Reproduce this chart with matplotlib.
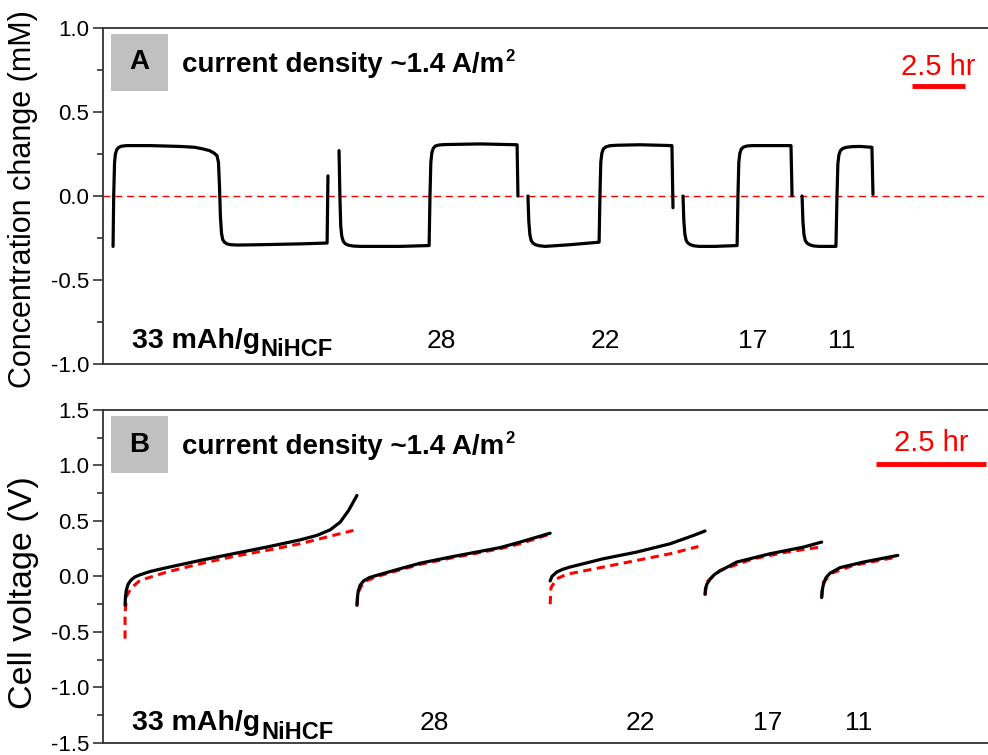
import matplotlib
matplotlib.use('Agg')
import matplotlib.pyplot as plt
from matplotlib.patches import Rectangle
from matplotlib.ticker import MultipleLocator

plt.rcParams['font.family'] = ['Liberation Sans', 'DejaVu Sans']
plt.rcParams['axes.unicode_minus'] = False

# panel A: concentration change (mM) vs time (hr), one list per cycle
conc_time = [
    [0.47, 0.50, 0.54, 0.58, 0.64, 0.72, 0.85, 1.10, 2.21, 3.62, 4.30, 4.70, 5.00, 5.22, 5.35, 5.42, 5.47,
     5.51, 5.56, 5.62, 5.70, 5.82, 6.00, 6.30, 7.37, 9.25, 10.52, 10.56],
    [11.08, 11.12, 11.16, 11.21, 11.28, 11.38, 11.52, 11.75, 12.10, 13.94, 15.31, 15.35, 15.39, 15.44, 15.51,
     15.60, 15.75, 16.00, 17.70, 19.44, 19.48],
    [19.95, 19.99, 20.04, 20.10, 20.18, 20.30, 20.48, 20.75, 21.92, 23.29, 23.33, 23.37, 23.42, 23.49, 23.60,
     23.78, 24.10, 25.21, 26.71, 26.76],
    [27.23, 27.27, 27.32, 27.38, 27.46, 27.58, 27.76, 28.00, 28.73, 29.77, 29.81, 29.85, 29.90, 29.97, 30.08,
     30.25, 30.50, 31.31, 32.30, 32.35],
    [32.82, 32.86, 32.91, 32.97, 33.05, 33.17, 33.35, 33.60, 34.41, 34.46, 34.50, 34.55, 34.62, 34.73, 34.90,
     35.20, 35.54, 36.10, 36.15],
]
conc_val = [
    [-0.30, 0.00, 0.20, 0.25, 0.275, 0.288, 0.296, 0.30, 0.30, 0.295, 0.29, 0.28, 0.27, 0.255, 0.24, 0.20, 0.05,
     -0.12, -0.22, -0.26, -0.275, -0.285, -0.29, -0.292, -0.29, -0.285, -0.28, 0.12],
    [0.27, 0.00, -0.18, -0.24, -0.27, -0.285, -0.293, -0.298, -0.30, -0.30, -0.295, 0.00, 0.20, 0.26, 0.285,
     0.297, 0.303, 0.306, 0.31, 0.305, 0.00],
    [0.00, -0.15, -0.23, -0.265, -0.28, -0.29, -0.296, -0.30, -0.29, -0.275, 0.00, 0.20, 0.255, 0.28, 0.292,
     0.299, 0.302, 0.305, 0.30, -0.07],
    [0.00, -0.15, -0.23, -0.265, -0.28, -0.29, -0.297, -0.30, -0.30, -0.295, 0.00, 0.20, 0.255, 0.28, 0.292,
     0.298, 0.30, 0.30, 0.30, 0.00],
    [0.00, -0.15, -0.23, -0.265, -0.28, -0.29, -0.297, -0.30, -0.30, 0.00, 0.19, 0.245, 0.27, 0.283, 0.29,
     0.294, 0.295, 0.29, 0.01],
]

# panel B: cell voltage (V) vs time (hr), measured (black) and modelled (red)
volt_time = [
    [0.50, 0.51, 0.53, 0.57, 0.63, 0.72, 0.84, 1.07, 1.45, 2.21, 2.96, 3.72, 4.48, 4.86, 5.16, 5.39, 5.58, 5.77],
    [5.77, 5.78, 5.80, 5.84, 5.92, 6.05, 6.22, 6.75, 7.21, 7.89, 9.02, 9.48, 10.16],
    [10.16, 10.20, 10.31, 10.45, 10.61, 11.37, 12.13, 12.89, 13.42, 13.68],
    [13.68, 13.69, 13.72, 13.80, 13.90, 14.02, 14.40, 15.16, 15.92, 16.33],
    [16.33, 16.34, 16.37, 16.43, 16.52, 16.75, 17.28, 18.06],
]
volt_val = [
    [-0.26, -0.18, -0.12, -0.07, -0.035, -0.005, 0.015, 0.045, 0.08, 0.145, 0.205, 0.265, 0.33, 0.37, 0.42,
     0.49, 0.595, 0.73],
    [-0.26, -0.19, -0.13, -0.08, -0.04, -0.01, 0.01, 0.07, 0.12, 0.175, 0.26, 0.31, 0.39],
    [-0.04, 0.0, 0.04, 0.065, 0.085, 0.16, 0.22, 0.295, 0.37, 0.41],
    [-0.16, -0.11, -0.07, -0.02, 0.02, 0.05, 0.13, 0.205, 0.265, 0.31],
    [-0.19, -0.13, -0.07, -0.01, 0.03, 0.08, 0.13, 0.19],
]
model_time = [
    [0.50, 0.50, 0.54, 0.65, 0.84, 1.45, 2.21, 2.96, 3.72, 4.48, 5.23, 5.69],
    [5.77, 5.80, 5.92, 6.22, 6.75, 7.21, 7.89, 9.02, 9.48, 10.10],
    [10.16, 10.18, 10.31, 10.54, 11.37, 12.13, 12.89, 13.53],
    [13.68, 13.72, 14.02, 14.78, 15.54, 16.30],
    [16.33, 16.37, 16.56, 17.05, 18.04],
]
model_val = [
    [-0.56, -0.33, -0.17, -0.10, -0.035, 0.04, 0.115, 0.18, 0.235, 0.295, 0.37, 0.415],
    [-0.26, -0.14, -0.05, 0.00, 0.06, 0.11, 0.165, 0.25, 0.295, 0.375],
    [-0.25, -0.10, -0.02, 0.02, 0.085, 0.145, 0.205, 0.27],
    [-0.17, -0.05, 0.055, 0.16, 0.22, 0.265],
    [-0.19, -0.05, 0.03, 0.10, 0.175],
]

capacity_labels = ['28', '22', '17', '11']
conc_label_x = [15.9, 23.6, 30.5, 34.7]
volt_label_x = [7.52, 12.2, 15.11, 17.16]

fig = plt.figure(figsize=(9.88, 7.55), dpi=100)
axA = fig.add_axes([0.1043, 0.5179, 0.8957, 0.4450])
axB = fig.add_axes([0.1043, 0.0159, 0.8957, 0.4411])
renderer = fig.canvas.get_renderer()

spine_col = '#333333'
for ax in (axA, axB):
    for side in ('left', 'top', 'bottom'):
        ax.spines[side].set_color(spine_col)
        ax.spines[side].set_linewidth(1.3)
    ax.spines['right'].set_visible(False)
    ax.set_xticks([])
    ax.tick_params(axis='y', direction='out', length=7, width=1.2, color=spine_col,
                   labelsize=16, pad=3)
    ax.tick_params(axis='y', which='minor', direction='out', length=4, width=1.2, color=spine_col)
    ax.yaxis.set_major_locator(MultipleLocator(0.5))
    ax.yaxis.set_minor_locator(MultipleLocator(0.25))


def capacity_label(ax, x, y):
    # bold "33 mAh/g" with a large bold NiHCF subscript
    main = ax.text(x, y, '33 mAh/g', ha='left', va='baseline', fontsize=20.5, fontweight='bold')
    main.get_window_extent(renderer)
    ax.annotate('NiHCF', xy=(1.0, 0.0), xycoords=main, xytext=(0.5, -1.5), textcoords='offset points',
                ha='left', va='baseline', fontsize=17, fontweight='bold')


def panel_tag(ax, letter, y0):
    ax.add_patch(Rectangle((0.009, y0), 0.064, 0.17, transform=ax.transAxes,
                           facecolor='#c0c0c0', edgecolor='none'))
    ax.text(0.041, y0 + 0.085, letter, transform=ax.transAxes, ha='center', va='center',
            fontsize=20, fontweight='bold')
    head = ax.text(0.089, y0 + 0.077, 'current density ~1.4 A/m', transform=ax.transAxes,
                   ha='left', va='center', fontsize=20, fontweight='bold')
    head.get_window_extent(renderer)
    ax.annotate('2', xy=(1.0, 1.0), xycoords=head, xytext=(0.8, 2.5), textcoords='offset points',
                ha='left', va='top', fontsize=12, fontweight='bold')


# ---- panel A ----
axA.set_xlim(0, 41.55)
axA.set_ylim(-1.0, 1.0)
axA.axhline(0, color='#ff0000', lw=1.0, dashes=(5, 3.5), zorder=1)
for t, c in zip(conc_time, conc_val):
    axA.plot(t, c, color='black', lw=2.3, solid_capstyle='round', solid_joinstyle='round', zorder=3)
axA.set_ylabel('Concentration change (mM)', fontsize=22)
axA.yaxis.set_label_coords(-0.073, 0.49)
panel_tag(axA, 'A', 0.8125)

# 2.5 hr scale bar
axA.plot([40.47 - 2.5, 40.47], [0.655, 0.655], color='#ff0000', lw=3.5, solid_capstyle='butt')
axA.text(40.47 - 1.25, 0.77, '2.5 hr', color='#ff0000', ha='center', va='center', fontsize=21)

capacity_label(axA, 1.36, -0.905)
for lab, x in zip(capacity_labels, conc_label_x):
    axA.text(x, -0.905, lab, ha='center', va='baseline', fontsize=19)

# ---- panel B ----
axB.set_xlim(0, 20.11)
axB.set_ylim(-1.5, 1.5)
for t, v in zip(model_time, model_val):
    axB.plot(t, v, color='#ff0000', lw=2.2, dashes=(2.7, 1.8), zorder=2)
for t, v in zip(volt_time, volt_val):
    axB.plot(t, v, color='black', lw=2.3, solid_capstyle='round', zorder=3)
axB.set_ylabel('Cell voltage (V)', fontsize=24.5)
axB.yaxis.set_label_coords(-0.072, 0.453)
panel_tag(axB, 'B', 0.811)

axB.plot([20.07 - 2.5, 20.07], [1.01, 1.01], color='#ff0000', lw=3.5, solid_capstyle='butt')
axB.text(20.07 - 1.25, 1.2, '2.5 hr', color='#ff0000', ha='center', va='center', fontsize=21)

capacity_label(axB, 0.66, -1.387)
for lab, x in zip(capacity_labels, volt_label_x):
    axB.text(x, -1.387, lab, ha='center', va='baseline', fontsize=19)

fig.savefig('out.png', dpi=100)
